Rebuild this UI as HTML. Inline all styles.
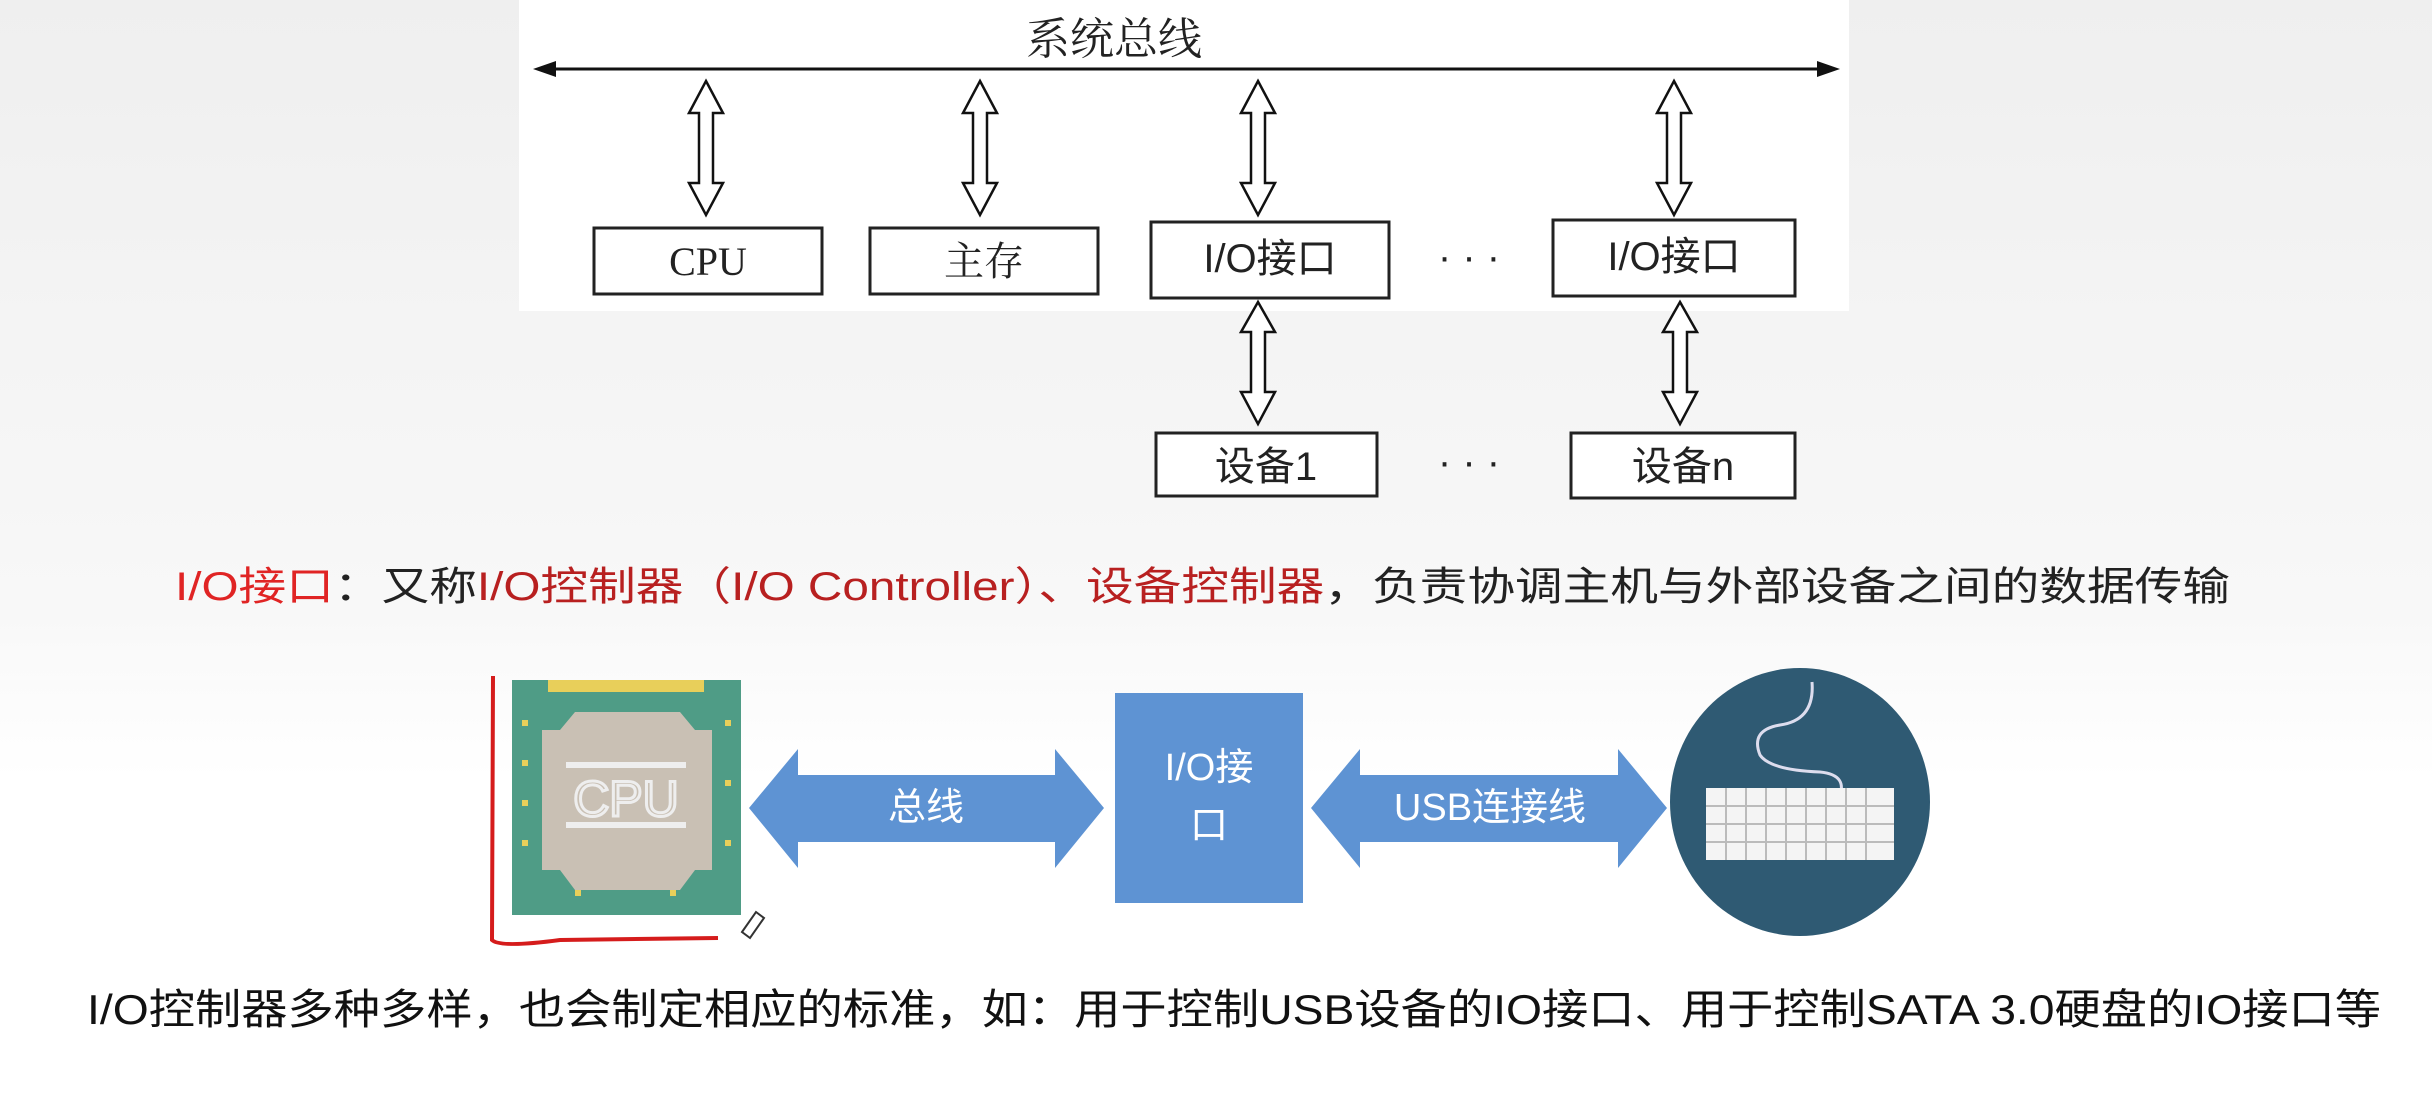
<!DOCTYPE html>
<html><head><meta charset="utf-8"><style>
html,body{margin:0;padding:0;width:2432px;height:1112px;overflow:hidden;background:#fff}
svg{display:block}
</style></head><body>
<svg width="2432" height="1112" viewBox="0 0 2432 1112" xmlns="http://www.w3.org/2000/svg" font-family="Liberation Sans, Noto Sans CJK SC, sans-serif">
<defs>
<linearGradient id="bg" x1="0" y1="0" x2="0" y2="1">
<stop offset="0" stop-color="#efefef"/><stop offset="0.55" stop-color="#f8f8f8"/><stop offset="0.7" stop-color="#ffffff"/><stop offset="1" stop-color="#ffffff"/>
</linearGradient>
</defs>
<rect width="2432" height="1112" fill="url(#bg)"/>
<rect x="519" y="0" width="1330" height="311" fill="#fff"/>
<text x="1114" y="54" font-size="44" text-anchor="middle" fill="#222" font-family="Noto Serif CJK SC, serif">系统总线</text>
<line x1="545" y1="69" x2="1828" y2="69" stroke="#111" stroke-width="3"/>
<polygon points="533,69 556,61 556,77" fill="#111"/>
<polygon points="1840,69 1817,61 1817,77" fill="#111"/>
<g fill="#fff" stroke="#111" stroke-width="2.5">
<polygon points="706,81 723,113 713,113 713,183 723,183 706,215 689,183 699,183 699,113 689,113"/>
<polygon points="980,81 997,113 987,113 987,183 997,183 980,215 963,183 973,183 973,113 963,113"/>
<polygon points="1258,81 1275,113 1265,113 1265,183 1275,183 1258,215 1241,183 1251,183 1251,113 1241,113"/>
<polygon points="1674,81 1691,113 1681,113 1681,183 1691,183 1674,215 1657,183 1667,183 1667,113 1657,113"/>
<polygon points="1258,302 1275,332 1265,332 1265,392 1275,392 1258,424 1241,392 1251,392 1251,332 1241,332"/>
<polygon points="1680,302 1697,332 1687,332 1687,392 1697,392 1680,424 1663,392 1673,392 1673,332 1663,332"/>
</g>
<g fill="#fff" stroke="#222" stroke-width="3">
<rect x="594" y="228" width="228" height="66"/>
<rect x="870" y="228" width="228" height="66"/>
<rect x="1151" y="222" width="238" height="76"/>
<rect x="1553" y="220" width="242" height="76"/>
<rect x="1156" y="433" width="221" height="63"/>
<rect x="1571" y="433" width="224" height="65"/>
</g>
<g fill="#222" font-size="40" text-anchor="middle">
<text x="708" y="275" font-family="Liberation Serif, serif">CPU</text>
<text x="984" y="275" font-family="Noto Serif CJK SC, serif">主存</text>
<text x="1270" y="272">I/O接口</text>
<text x="1674" y="270">I/O接口</text>
<text x="1266" y="480">设备1</text>
<text x="1683" y="480">设备n</text>
<text x="1469" y="270">· · ·</text>
<text x="1469" y="475">· · ·</text>
</g>
<text x="175" y="600" font-size="40" textLength="2055" lengthAdjust="spacingAndGlyphs"><tspan fill="#e02424">I/O接口</tspan><tspan fill="#222">：又称</tspan><tspan fill="#b82020">I/O控制器（I/O Controller）、设备控制器</tspan><tspan fill="#222">，负责协调主机与外部设备之间的数据传输</tspan></text>
<!-- CPU chip -->
<rect x="512" y="680" width="229" height="235" fill="#4f9c86"/>
<rect x="548" y="680" width="156" height="12" fill="#e8cf5a"/>
<polygon points="575,712 680,712 695,730 712,730 712,870 695,870 680,890 575,890 560,870 542,870 542,730 560,730" fill="#c9c0b4"/>
<rect x="566" y="762" width="120" height="6" fill="#eee"/>
<rect x="566" y="822" width="120" height="6" fill="#eee"/>
<text x="626" y="816" font-size="50" fill="none" stroke="#eee" stroke-width="3" text-anchor="middle">CPU</text>
<g fill="#e8cf5a"><rect x="522" y="720" width="6" height="6"/><rect x="522" y="760" width="6" height="6"/><rect x="522" y="800" width="6" height="6"/><rect x="522" y="840" width="6" height="6"/><rect x="725" y="720" width="6" height="6"/><rect x="725" y="780" width="6" height="6"/><rect x="725" y="840" width="6" height="6"/><rect x="575" y="890" width="6" height="6"/><rect x="670" y="890" width="6" height="6"/></g>
<path d="M493,676 L492,940 Q500,948 560,940 L718,938" fill="none" stroke="#d51c1c" stroke-width="4"/>
<path d="M742,932 L756,912 L764,918 L750,938 Z" fill="#fff" stroke="#333" stroke-width="2"/>
<!-- blue arrows -->
<polygon points="749,808 798,749 798,775 1055,775 1055,749 1104,808 1055,868 1055,842 798,842 798,868" fill="#5e93d3"/>
<text x="926" y="820" font-size="38" fill="#fff" text-anchor="middle">总线</text>
<rect x="1115" y="693" width="188" height="210" fill="#5e93d3"/>
<text x="1209" y="780" font-size="38" fill="#fff" text-anchor="middle">I/O接</text>
<text x="1209" y="838" font-size="38" fill="#fff" text-anchor="middle">口</text>
<polygon points="1311,808 1360,749 1360,775 1618,775 1618,749 1667,808 1618,868 1618,842 1360,842 1360,868" fill="#5e93d3"/>
<text x="1490" y="820" font-size="38" fill="#fff" text-anchor="middle">USB连接线</text>
<!-- keyboard -->
<ellipse cx="1800" cy="802" rx="130" ry="134" fill="#2f5a73"/>
<path d="M1812,682 Q1815,720 1780,725 Q1750,730 1760,755 Q1770,770 1820,772 Q1850,775 1838,800 L1830,815" fill="none" stroke="#dde" stroke-width="3"/>
<rect x="1706" y="788" width="188" height="72" fill="#f4f4f4"/>
<g stroke="#bbb" stroke-width="2"><line x1="1706" y1="806" x2="1894" y2="806"/><line x1="1706" y1="824" x2="1894" y2="824"/><line x1="1706" y1="842" x2="1894" y2="842"/>
<line x1="1726" y1="788" x2="1726" y2="860"/><line x1="1746" y1="788" x2="1746" y2="860"/><line x1="1766" y1="788" x2="1766" y2="860"/><line x1="1786" y1="788" x2="1786" y2="860"/><line x1="1806" y1="788" x2="1806" y2="860"/><line x1="1826" y1="788" x2="1826" y2="860"/><line x1="1846" y1="788" x2="1846" y2="860"/><line x1="1866" y1="788" x2="1866" y2="860"/></g>
<text x="87" y="1024" font-size="42" fill="#111" textLength="2294" lengthAdjust="spacingAndGlyphs">I/O控制器多种多样，也会制定相应的标准，如：用于控制USB设备的IO接口、用于控制SATA 3.0硬盘的IO接口等</text>
</svg>
</body></html>
